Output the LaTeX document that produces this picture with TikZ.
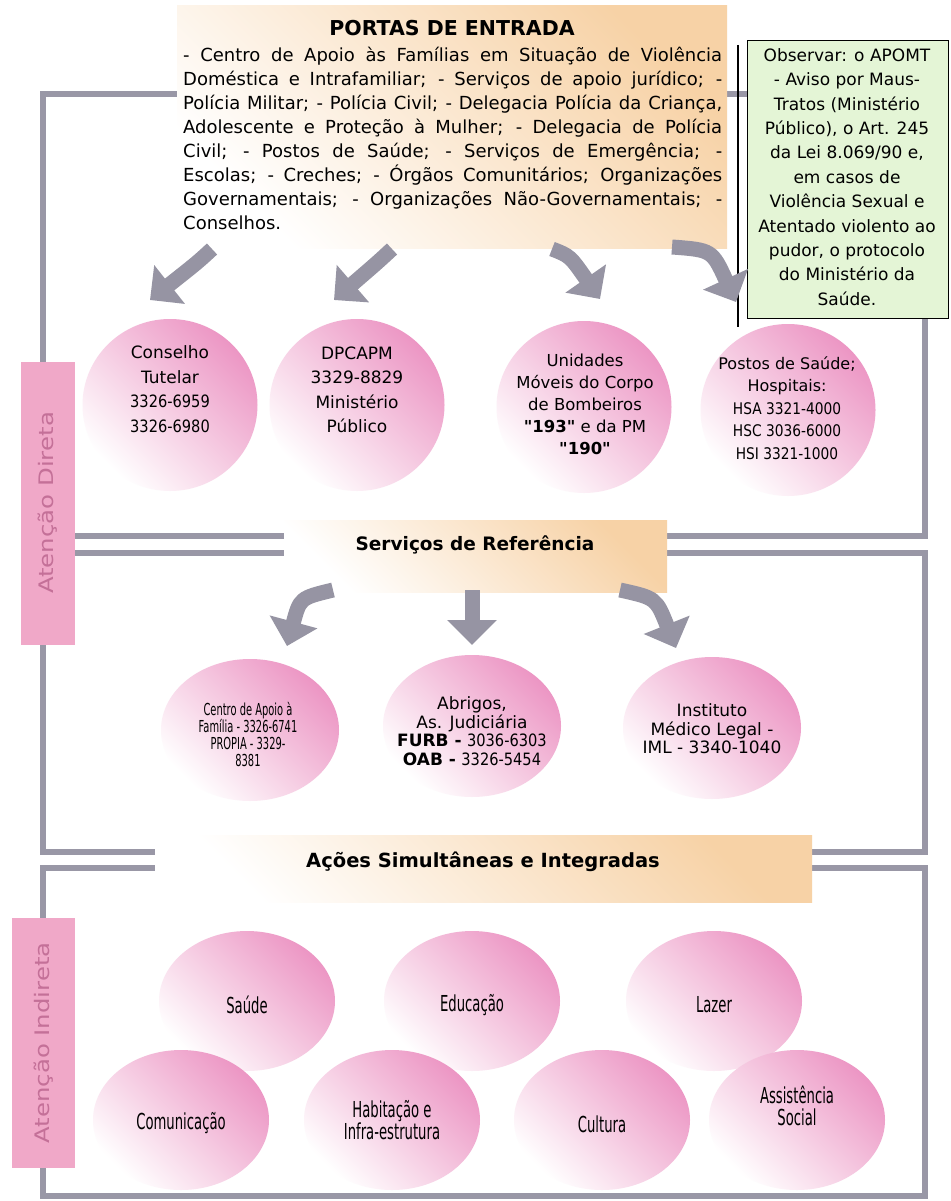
\documentclass[tikz,border=0pt]{standalone}
\usepackage{fontspec}
\setmainfont{DejaVu Sans}
\newfontfamily\plainfont{DejaVu Sans}
\newfontfamily\narrowfont[FakeStretch=0.86]{DejaVu Sans}
\newfontfamily\slimfont[FakeStretch=0.6]{DejaVu Sans}
\newfontfamily\tabfont[FakeStretch=1.22]{DejaVu Sans}
\usetikzlibrary{arrows.meta,shapes.geometric}

\definecolor{framegray}{RGB}{153,151,166}
\definecolor{arrowgray}{RGB}{150,148,163}
\definecolor{peach}{RGB}{247,210,166}
\definecolor{rose}{RGB}{236,150,196}
\definecolor{rosemid}{RGB}{245,198,222}
\definecolor{tabpink}{RGB}{240,168,200}
\definecolor{tabtext}{RGB}{196,112,152}
\definecolor{notegreen}{RGB}{228,245,214}

\tikzset{
  frameline/.style={draw=framegray, line width=6pt},
  peachbox/.style={rectangle, inner sep=0pt, left color=white, right color=peach, shading angle=135},
  rosedisc/.style={ellipse, inner sep=0pt, left color=white, middle color=rosemid, right color=rose, shading angle=135},
  topdisc/.style={rosedisc, minimum width=175pt, minimum height=172pt},
  middisc/.style={rosedisc, minimum width=178pt, minimum height=142pt},
  lowdisc/.style={rosedisc, minimum width=176pt, minimum height=140pt},
  tab/.style={rectangle, fill=tabpink, inner sep=0pt},
  tablabel/.style={rotate=90, text=tabtext, font=\tabfont\fontsize{20}{20}\selectfont},
  notebox/.style={rectangle, fill=notegreen, draw=black, line width=1.3pt, inner sep=0pt},
  disctext/.style={align=center, inner sep=0pt, font=\fontsize{17}{24.5}\selectfont},
  midtext/.style={align=center, inner sep=0pt, font=\fontsize{17}{18.5}\selectfont},
  lowtext/.style={align=center, inner sep=0pt, font=\slimfont\fontsize{22}{22}\selectfont},
  heading/.style={inner sep=0pt, font=\bfseries\fontsize{18.5}{22}\selectfont},
  bigarrow/.style={draw=arrowgray, line width=15pt, -{Triangle[width=48pt,length=25pt]}}
}

\begin{document}
\begin{tikzpicture}[x=1pt,y=-1pt]
\useasboundingbox (0,0) rectangle (950,1201);
\fill[white] (0,0) rectangle (950,1201);

% three gray frames
\draw[frameline] (43,94) rectangle (925,536);
\draw[frameline] (43,553) rectangle (925,852);
\draw[frameline] (43,868) rectangle (925,1196);

% entry points box
\node[peachbox, minimum width=550pt, minimum height=243pt, anchor=north west] (portas) at (177,5) {};
\node[inner sep=0pt, font=\bfseries\fontsize{20.5}{24}\selectfont] (portastitle) at (452,28) {PORTAS DE ENTRADA};
\node[anchor=north west, text width=539pt, align=justify, inner sep=0pt, font=\fontsize{18}{24}\selectfont] (portasbody) at (183,46.5)
{\tolerance=10000 \hyphenpenalty=10000 \exhyphenpenalty=10000
- Centro de Apoio às Famílias em Situação de Violência\linebreak
Doméstica e Intrafamiliar; - Serviços de apoio jurídico; -\linebreak
Polícia Militar; - Polícia Civil; - Delegacia Polícia da Criança,\linebreak
Adolescente e Proteção à Mulher; - Delegacia de Polícia\linebreak
Civil; - Postos de Saúde; - Serviços de Emergência; -\linebreak
Escolas; - Creches; - Órgãos Comunitários; Organizações\linebreak
Governamentais; - Organizações Não-Governamentais; -\linebreak
Conselhos.};

% note box
\coordinate (ruleA) at (738,45);
\coordinate (ruleB) at (738,327);
\draw[black, line width=1.3pt] (ruleA) -- (ruleB);
\node[notebox, minimum width=201pt, minimum height=278pt, anchor=north west] (obs) at (747,40) {};
\node[align=center, inner sep=0pt, font=\fontsize{17}{24.4}\selectfont] (obstext) at (847,177)
{Observar: o APOMT\\- Aviso por Maus-\\Tratos (Ministério\\Público), o Art. 245\\da Lei 8.069/90 e,\\em casos de\\Violência Sexual e\\Atentado violento ao\\pudor, o protocolo\\do Ministério da\\Saúde.};

% side tabs
\node[tab, minimum width=54pt, minimum height=283pt] (tabdireta) at (48,503) {};
\node[tablabel] (tabdiretatext) at (tabdireta.center) {Atenção Direta};
\node[tab, minimum width=63pt, minimum height=250pt] (tabindireta) at (43.5,1043) {};
\node[tablabel] (tabindiretatext) at (tabindireta.center) {Atenção Indireta};

% first row of services
\node[topdisc] (conselho) at (170,405) {};
\node[topdisc] (dpcapm) at (357,405) {};
\node[topdisc] (unidades) at (584,407) {};
\node[topdisc] (postos) at (788,410) {};
\node[disctext] (conselhotext) at (170,389) {Conselho\\Tutelar\\{\narrowfont 3326-6959}\\{\narrowfont 3326-6980}};
\node[disctext] (dpcapmtext) at (357,390) {DPCAPM\\3329-8829\\Ministério\\Público};
\node[disctext, font=\fontsize{16.5}{22}\selectfont] (unidadestext) at (585,404) {Unidades\\Móveis do Corpo\\de Bombeiros\\{\plainfont\bfseries "193"} e da PM\\{\plainfont\bfseries "190"}};
\node[disctext, font=\fontsize{16}{22.5}\selectfont] (postostext) at (787,408) {Postos de Saúde;\\Hospitais:\\{\narrowfont HSA 3321-4000}\\{\narrowfont HSC 3036-6000}\\{\narrowfont HSI 3321-1000}};

% arrows from the entry box
\coordinate (a1s) at (212,249);
\coordinate (a1e) at (150,300);
\coordinate (a2s) at (392,249);
\coordinate (a2e) at (334,300);
\coordinate (a3s) at (552,249);
\coordinate (a3e) at (600,299);
\coordinate (a4s) at (672,247);
\coordinate (a4e) at (736,302);
\draw[bigarrow] (a1s) .. controls (198,262) .. (a1e);
\draw[bigarrow] (a2s) .. controls (378,262) .. (a2e);
\draw[bigarrow] (a3s) .. controls (570,256) .. (a3e);
\draw[bigarrow] (a4s) .. controls (712,250) .. (a4e);

% reference services
\node[peachbox, minimum width=383pt, minimum height=72pt] (servicos) at (475.5,556) {};
\node[heading, font=\bfseries\fontsize{18.5}{22}\selectfont] (servicostext) at (475,545) {Serviços de Referência};

\coordinate (m1s) at (333,590);
\coordinate (m1e) at (287,646);
\coordinate (m2s) at (472,590);
\coordinate (m2e) at (472,645);
\coordinate (m3s) at (620,590);
\coordinate (m3e) at (676,648);
\draw[bigarrow] (m1s) .. controls (300,598) .. (m1e);
\draw[bigarrow] (m2s) -- (m2e);
\draw[bigarrow] (m3s) .. controls (656,598) .. (m3e);

\node[middisc] (centro) at (250,730) {};
\node[middisc] (abrigos) at (472,726) {};
\node[middisc] (instituto) at (712,728) {};
\node[midtext, font=\slimfont\fontsize{16.5}{17}\selectfont] (centrotext) at (248,735) {Centro de Apoio à\\Família - 3326-6741\\PROPIA - 3329-\\8381};
\node[midtext] (abrigostext) at (472,731) {Abrigos,\\As. Judiciária\\\textbf{FURB -} {\narrowfont 3036-6303}\\\textbf{OAB -} {\narrowfont 3326-5454}};
\node[midtext] (institutotext) at (712,729) {Instituto\\Médico Legal -\\IML - 3340-1040};

% integrated actions
\node[peachbox, minimum width=657pt, minimum height=67pt, anchor=north west] (acoes) at (155,835) {};
\node[heading, font=\bfseries\fontsize{19.5}{22}\selectfont] (acoestext) at (483,862) {Ações Simultâneas e Integradas};

\node[lowdisc] (saude) at (247,1001) {};
\node[lowdisc] (educacao) at (472,1001) {};
\node[lowdisc] (lazer) at (714,1001) {};
\node[lowdisc] (comunicacao) at (181,1120) {};
\node[lowdisc] (habitacao) at (392,1120) {};
\node[lowdisc] (cultura) at (602,1120) {};
\node[lowdisc] (assistencia) at (797,1120) {};
\node[lowtext] (saudetext) at (247,1005) {Saúde};
\node[lowtext] (educacaotext) at (472,1005) {Educação};
\node[lowtext] (lazertext) at (714,1005) {Lazer};
\node[lowtext] (comunicacaotext) at (181,1123) {Comunicação};
\node[lowtext] (habitacaotext) at (392,1120) {Habitação e\\Infra-estrutura};
\node[lowtext] (culturatext) at (602,1124) {Cultura};
\node[lowtext] (assistenciatext) at (797,1106) {Assistência\\Social};
\end{tikzpicture}
\end{document}
